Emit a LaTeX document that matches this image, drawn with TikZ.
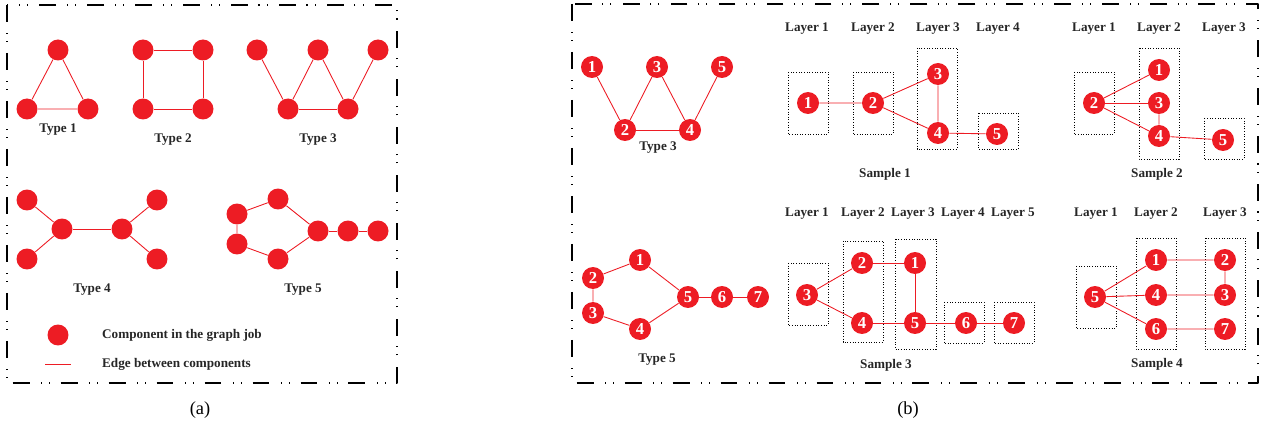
\documentclass[tikz,border=0pt]{standalone}
\usepackage{fontspec}
\setmainfont{Liberation Serif}
\usetikzlibrary{arrows.meta,positioning}

\definecolor{compred}{HTML}{ED1C24}

\tikzset{
  comp/.style={circle, fill=compred, inner sep=0pt, minimum size=0.42cm},
  num/.style={circle, fill=compred, inner sep=0pt, minimum size=0.44cm,
    text=white, font=\fontsize{9.5}{9.5}\selectfont\bfseries},
  edge/.style={draw=compred, line width=0.5pt},
  layerbox/.style={draw=black, densely dotted, line width=0.5pt},
  lbl/.style={font=\fontsize{7.5}{8}\selectfont\bfseries, text=black!85},
  frame/.style={line width=1.1pt, dash pattern=on 9.6pt off 6.5pt on 0.6pt off 4pt on 0.6pt off 6pt}
}

\begin{document}
\begin{tikzpicture}[x=0.02cm, y=-0.02cm, >=Stealth, line join=round]
  \useasboundingbox (0,0) rectangle (1268,432);

  % frames
  \draw[frame] (7,5) rectangle (397,383);
  \draw[frame] (572,4) rectangle (1258,383);
  \node[font=\fontsize{10.5}{10.5}\selectfont] (capa) at (200,410) {(a)};
  \node[font=\fontsize{10.5}{10.5}\selectfont] (capb) at (908,410) {(b)};

  % ---- (a) Type 1
  \node[comp] (ta1) at (58,50) {};
  \node[comp] (ta2) at (27,109) {};
  \node[comp] (ta3) at (88,109) {};
  \draw[edge] (ta1) -- (ta2) -- (ta3) -- (ta1);
  \node[lbl] (type1) at (58,130) {Type 1};

  % Type 2
  \node[comp] (tb1) at (143,50) {};
  \node[comp] (tb2) at (203,50) {};
  \node[comp] (tb3) at (203,109) {};
  \node[comp] (tb4) at (143,109) {};
  \draw[edge] (tb1) -- (tb2) -- (tb3) -- (tb4) -- (tb1);
  \node[lbl] (type2) at (173,140) {Type 2};

  % Type 3
  \node[comp] (tc1) at (257,50) {};
  \node[comp] (tc3) at (318,50) {};
  \node[comp] (tc5) at (378,50) {};
  \node[comp] (tc2) at (288,109) {};
  \node[comp] (tc4) at (348,109) {};
  \draw[edge] (tc1) -- (tc2) -- (tc3) -- (tc4) -- (tc5);
  \draw[edge] (tc2) -- (tc4);
  \node[lbl] (type3) at (318,140) {Type 3};

  % Type 4
  \node[comp] (td1) at (27,200) {};
  \node[comp] (td2) at (27,259) {};
  \node[comp] (td3) at (62,229) {};
  \node[comp] (td4) at (122,229) {};
  \node[comp] (td5) at (157,200) {};
  \node[comp] (td6) at (157,259) {};
  \draw[edge] (td1) -- (td3) -- (td2);
  \draw[edge] (td3) -- (td4);
  \draw[edge] (td5) -- (td4) -- (td6);
  \node[lbl] (type4) at (92,290) {Type 4};

  % Type 5
  \node[comp] (te1) at (278,199) {};
  \node[comp] (te2) at (237,214) {};
  \node[comp] (te3) at (237,244) {};
  \node[comp] (te4) at (278,259) {};
  \node[comp] (te5) at (318,231) {};
  \node[comp] (te6) at (348,231) {};
  \node[comp] (te7) at (378,231) {};
  \draw[edge] (te1) -- (te2) -- (te3) -- (te4) -- (te5) -- (te1);
  \draw[edge] (te5) -- (te6) -- (te7);
  \node[lbl] (type5) at (303,290) {Type 5};

  % legend
  \node[comp] (legcomp) at (58,335) {};
  \node[lbl, anchor=west] (legtext1) at (96,335) {Component in the graph job};
  \coordinate (lega) at (45,364);
  \coordinate (legb) at (71,364);
  \draw[edge] (lega) -- (legb);
  \node[lbl, anchor=west] (legtext2) at (96,364) {Edge between components};

  % ---- (b) Type 3
  \node[num] (p1) at (592,67) {1};
  \node[num] (p3) at (657,67) {3};
  \node[num] (p5) at (722,67) {5};
  \node[num] (p2) at (625,130) {2};
  \node[num] (p4) at (690,130) {4};
  \draw[edge] (p1) -- (p2) -- (p3) -- (p4) -- (p5);
  \draw[edge] (p2) -- (p4);
  \node[lbl] (ptype3) at (658,148) {Type 3};

  % Sample 1
  \node[lbl] (s1l1) at (807,29) {Layer 1};
  \node[lbl] (s1l2) at (873,29) {Layer 2};
  \node[lbl] (s1l3) at (938,29) {Layer 3};
  \node[lbl] (s1l4) at (998,29) {Layer 4};
  \draw[layerbox] (788,72) rectangle (828,134);
  \draw[layerbox] (853,72) rectangle (893,134);
  \draw[layerbox] (917,48) rectangle (957,149);
  \draw[layerbox] (978,113) rectangle (1018,149);
  \node[num] (sa1) at (808,103) {1};
  \node[num] (sa2) at (873,103) {2};
  \node[num] (sa3) at (938,74) {3};
  \node[num] (sa4) at (938,133) {4};
  \node[num] (sa5) at (997,134) {5};
  \draw[edge] (sa1) -- (sa2) -- (sa3) -- (sa4) -- (sa5);
  \draw[edge] (sa2) -- (sa4);
  \node[lbl] (samp1) at (885,174) {Sample 1};

  % Sample 2
  \node[lbl] (s2l1) at (1094,29) {Layer 1};
  \node[lbl] (s2l2) at (1159,29) {Layer 2};
  \node[lbl] (s2l3) at (1224,29) {Layer 3};
  \draw[layerbox] (1074,72) rectangle (1114,134);
  \draw[layerbox] (1139,48) rectangle (1179,159);
  \draw[layerbox] (1204,118) rectangle (1244,159);
  \node[num] (sb2) at (1094,103) {2};
  \node[num] (sb1) at (1159,70) {1};
  \node[num] (sb3) at (1159,103) {3};
  \node[num] (sb4) at (1159,136) {4};
  \node[num] (sb5) at (1223,140) {5};
  \draw[edge] (sb2) -- (sb1);
  \draw[edge] (sb2) -- (sb3);
  \draw[edge] (sb2) -- (sb4);
  \draw[edge] (sb3) -- (sb4) -- (sb5);
  \node[lbl] (samp2) at (1157,174) {Sample 2};

  % (b) Type 5
  \node[num] (q1) at (640,260) {1};
  \node[num] (q2) at (593,278) {2};
  \node[num] (q3) at (593,313) {3};
  \node[num] (q4) at (640,329) {4};
  \node[num] (q5) at (688,297) {5};
  \node[num] (q6) at (722,297) {6};
  \node[num] (q7) at (758,297) {7};
  \draw[edge] (q1) -- (q2) -- (q3) -- (q4) -- (q5) -- (q1);
  \draw[edge] (q5) -- (q6) -- (q7);
  \node[lbl] (ptype5) at (657,360) {Type 5};

  % Sample 3
  \node[lbl] (s3l1) at (807,214) {Layer 1};
  \node[lbl] (s3l2) at (863,214) {Layer 2};
  \node[lbl] (s3l3) at (913,214) {Layer 3};
  \node[lbl] (s3l4) at (963,214) {Layer 4};
  \node[lbl] (s3l5) at (1013,214) {Layer 5};
  \draw[layerbox] (788,263) rectangle (828,325);
  \draw[layerbox] (843,241) rectangle (883,342);
  \draw[layerbox] (895,239) rectangle (936,349);
  \draw[layerbox] (944,302) rectangle (984,343);
  \draw[layerbox] (994,302) rectangle (1034,343);
  \node[num] (sc3) at (807,295) {3};
  \node[num] (sc2) at (862,263) {2};
  \node[num] (sc4) at (862,323) {4};
  \node[num] (sc1) at (915,263) {1};
  \node[num] (sc5) at (915,323) {5};
  \node[num] (sc6) at (966,323) {6};
  \node[num] (sc7) at (1014,323) {7};
  \draw[edge] (sc2) -- (sc3) -- (sc4);
  \draw[edge] (sc2) -- (sc1) -- (sc5);
  \draw[edge] (sc4) -- (sc5) -- (sc6) -- (sc7);
  \node[lbl] (samp3) at (886,365) {Sample 3};

  % Sample 4
  \node[lbl] (s4l1) at (1096,214) {Layer 1};
  \node[lbl] (s4l2) at (1156,214) {Layer 2};
  \node[lbl] (s4l3) at (1225,214) {Layer 3};
  \draw[layerbox] (1076,266) rectangle (1116,328);
  \draw[layerbox] (1136,238) rectangle (1176,349);
  \draw[layerbox] (1205,238) rectangle (1245,349);
  \node[num] (sd5) at (1095,297) {5};
  \node[num] (sd1) at (1156,260) {1};
  \node[num] (sd4) at (1156,295) {4};
  \node[num] (sd6) at (1156,329) {6};
  \node[num] (sd2) at (1225,260) {2};
  \node[num] (sd3) at (1225,295) {3};
  \node[num] (sd7) at (1225,329) {7};
  \draw[edge] (sd5) -- (sd1) -- (sd2) -- (sd3) -- (sd4) -- (sd5);
  \draw[edge] (sd5) -- (sd6) -- (sd7);
  \node[lbl] (samp4) at (1157,364) {Sample 4};
\end{tikzpicture}
\end{document}
